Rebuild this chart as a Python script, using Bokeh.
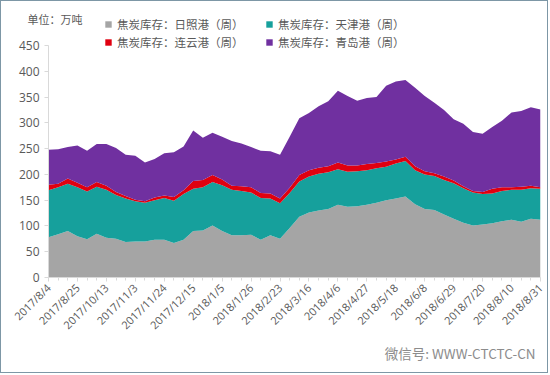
from math import pi
from bokeh.plotting import figure
from bokeh.models import ColumnDataSource, Range1d, FixedTicker, Legend, LegendItem, Title
from bokeh.embed import file_html
from bokeh.resources import INLINE

dates = ["2017/8/4", "2017/8/11", "2017/8/18", "2017/8/25", "2017/9/22", "2017/9/29",
         "2017/10/13", "2017/10/20", "2017/10/27", "2017/11/3", "2017/11/10", "2017/11/17",
         "2017/11/24", "2017/12/1", "2017/12/8", "2017/12/15", "2017/12/22", "2017/12/29",
         "2018/1/5", "2018/1/12", "2018/1/19", "2018/1/26", "2018/2/2", "2018/2/9",
         "2018/2/23", "2018/3/2", "2018/3/9", "2018/3/16", "2018/3/23", "2018/3/30",
         "2018/4/6", "2018/4/13", "2018/4/20", "2018/4/27", "2018/5/4", "2018/5/11",
         "2018/5/18", "2018/5/25", "2018/6/1", "2018/6/8", "2018/6/15", "2018/6/22",
         "2018/6/29", "2018/7/6", "2018/7/13", "2018/7/20", "2018/7/27", "2018/8/3",
         "2018/8/10", "2018/8/17", "2018/8/24", "2018/8/31"]

rizhao = [78, 84, 90, 80, 74, 85, 77, 75, 69, 70, 70, 73, 73, 67, 73, 90, 91, 101,
          90, 82, 82, 83, 73, 82, 75, 96, 118, 126, 130, 133, 141, 137, 138, 141, 145,
          150, 153, 157, 142, 133, 131, 122, 114, 106, 101, 103, 105, 109, 112, 108, 114, 112]
tianjin = [91, 91, 92, 95, 93, 91, 93, 85, 84, 78, 75, 77, 81, 82, 89, 82, 84, 84,
           89, 88, 86, 82, 81, 71, 69, 68, 68, 70, 71, 71, 69, 68, 68, 67, 67,
           65, 68, 69, 66, 67, 66, 67, 69, 67, 64, 59, 58, 59, 58, 62, 59, 60]
lianyun = [11, 7, 10, 9, 8, 9, 8, 6, 5, 3, 3, 5, 5, 7, 7, 15, 14, 14,
           11, 8, 9, 10, 10, 10, 9, 10, 13, 12, 12, 12, 13, 12, 11, 12, 10,
           10, 8, 8, 8, 6, 5, 7, 5, 4, 3, 4, 9, 7, 5, 6, 5, 3]
qingdao = [68, 67, 61, 72, 71, 74, 81, 85, 80, 85, 75, 75, 82, 87, 85, 98, 82, 82,
           83, 87, 83, 78, 82, 82, 85, 99, 110, 111, 119, 126, 139, 135, 126, 128, 128,
           147, 151, 149, 152, 146, 137, 129, 119, 121, 114, 113, 120, 129, 145, 147, 152, 151]

names = ["焦炭库存：日照港（周）", "焦炭库存：天津港（周）", "焦炭库存：连云港（周）", "焦炭库存：青岛港（周）"]
colors = ["#A5A5A5", "#16A09C", "#E00010", "#7030A0"]
y_ticks = list(range(0, 451, 50))
y_max = 450

x = list(range(len(dates)))
source = ColumnDataSource(dict(x=x, rizhao=rizhao, tianjin=tianjin, lianyun=lianyun, qingdao=qingdao))

top_b, bot_b, H = 14, 97, 373
frame_h = H - top_b - bot_b
axis_px = 232  # pixel height of the 0..450 axis
p = figure(width=548, height=H, output_backend="svg", toolbar_location=None,
           x_range=Range1d(0, len(dates) - 1),
           y_range=Range1d(0, y_max * frame_h / axis_px),
           min_border_left=47, min_border_right=9, min_border_top=top_b, min_border_bottom=bot_b)
p.styles = {"border": "1px solid #7d97a6"}
p.outline_line_color = None
p.xgrid.visible = False
p.ygrid.visible = False

renderers = p.varea_stack(stackers=["rizhao", "tianjin", "lianyun", "qingdao"], x="x",
                          color=colors, source=source)

legend_style = dict(orientation="horizontal", background_fill_alpha=0, border_line_color=None,
                    label_text_font="Noto Sans CJK SC", label_text_font_size="11.5px",
                    label_text_color="#595959", glyph_width=8, glyph_height=8,
                    label_standoff=5, spacing=3, padding=0, margin=0,
                    label_height=20, label_width=145)
items = [LegendItem(label=n, renderers=[r]) for n, r in zip(names, renderers)]
legend1 = Legend(items=items[:2], location=(56, 243), **legend_style)
legend2 = Legend(items=items[2:], location=(56, 225), **legend_style)
p.add_layout(legend1, "center")
p.add_layout(legend2, "center")

p.add_layout(Title(text="单位：万吨", align="left", offset=-21, standoff=-23,
                   text_font="Noto Sans CJK SC", text_font_size="11px",
                   text_font_style="normal", text_color="#595959"), "above")
p.add_layout(Title(text="微信号: WWW-CTCTC-CN", align="right", offset=5, standoff=0,
                   text_font="Noto Sans CJK SC", text_font_size="13.5px",
                   text_font_style="normal", text_color="#8C8C8C"), "below")

p.yaxis.ticker = FixedTicker(ticks=y_ticks)
p.yaxis.bounds = (0, y_max)
p.yaxis.axis_line_color = "#D9D9D9"
p.yaxis.major_tick_line_color = "#D9D9D9"
p.yaxis.major_tick_out = 4
p.yaxis.major_tick_in = 0
p.yaxis.minor_tick_line_color = None
p.yaxis.major_label_text_color = "#595959"
p.yaxis.major_label_text_font = "Open Sans"
p.yaxis.major_label_text_font_size = "12px"

p.xaxis.ticker = FixedTicker(ticks=list(range(0, len(dates), 3)), minor_ticks=x)
p.xaxis.major_label_overrides = {i: dates[i] for i in range(0, len(dates), 3)}
p.xaxis.major_label_orientation = pi / 4
p.xaxis.axis_line_color = "#D9D9D9"
p.xaxis.major_tick_line_color = "#D9D9D9"
p.xaxis.minor_tick_line_color = "#D9D9D9"
p.xaxis.major_tick_out = 4
p.xaxis.major_tick_in = 0
p.xaxis.minor_tick_out = 3
p.xaxis.minor_tick_in = 0
p.xaxis.major_label_text_color = "#595959"
p.xaxis.major_label_text_font = "Open Sans"
p.xaxis.major_label_text_font_size = "11px"
p.xaxis.major_label_standoff = 4

open("out.html", "w").write(file_html(p, INLINE))
